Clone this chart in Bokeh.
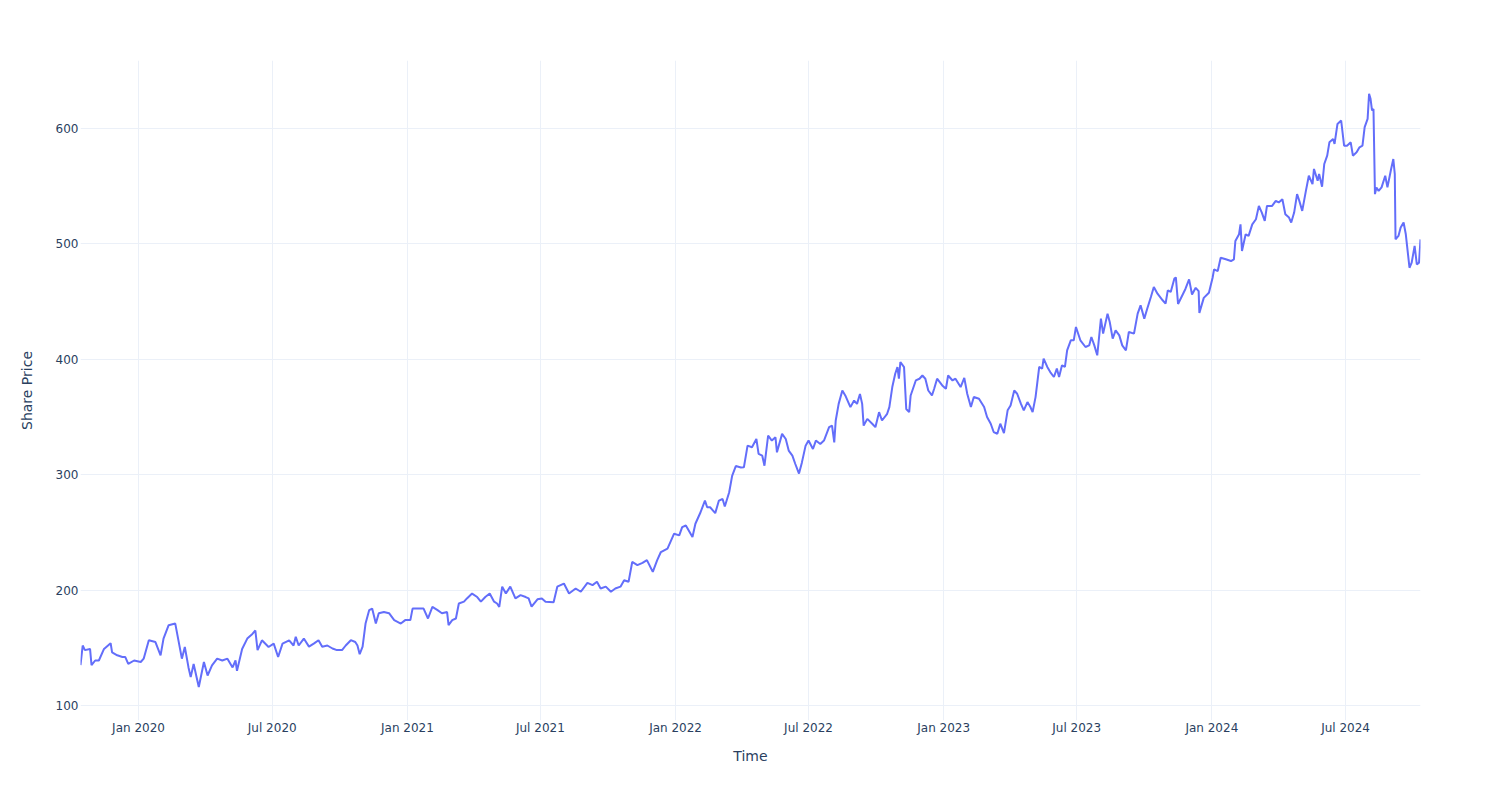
import pandas as pd
from bokeh.plotting import figure
from bokeh.models import FixedTicker, DatetimeTickFormatter, Range1d
from bokeh.embed import file_html
from bokeh.resources import INLINE

dates = [
    "2019-10-14", "2019-10-17", "2019-10-20", "2019-10-27", "2019-10-29", "2019-11-03", "2019-11-08", "2019-11-15",
    "2019-11-24", "2019-11-26", "2019-12-03", "2019-12-10", "2019-12-14", "2019-12-18", "2019-12-26", "2020-01-04",
    "2020-01-08", "2020-01-15", "2020-01-24", "2020-01-31", "2020-02-04", "2020-02-11", "2020-02-20", "2020-02-29",
    "2020-03-04", "2020-03-09", "2020-03-12", "2020-03-16", "2020-03-23", "2020-03-30", "2020-04-04", "2020-04-10",
    "2020-04-17", "2020-04-24", "2020-05-01", "2020-05-08", "2020-05-12", "2020-05-14", "2020-05-21", "2020-05-28",
    "2020-06-04", "2020-06-08", "2020-06-11", "2020-06-17", "2020-06-26", "2020-07-03", "2020-07-09", "2020-07-15",
    "2020-07-24", "2020-07-30", "2020-08-02", "2020-08-06", "2020-08-13", "2020-08-20", "2020-08-27", "2020-09-02",
    "2020-09-07", "2020-09-14", "2020-09-21", "2020-09-27", "2020-10-04", "2020-10-09", "2020-10-16", "2020-10-22",
    "2020-10-25", "2020-10-28", "2020-11-01", "2020-11-05", "2020-11-10", "2020-11-14", "2020-11-19", "2020-11-23",
    "2020-11-30", "2020-12-07", "2020-12-14", "2020-12-23", "2020-12-29", "2021-01-05", "2021-01-08", "2021-01-17",
    "2021-01-23", "2021-01-29", "2021-02-04", "2021-02-11", "2021-02-17", "2021-02-24", "2021-02-26", "2021-03-03",
    "2021-03-08", "2021-03-12", "2021-03-19", "2021-03-23", "2021-03-30", "2021-04-06", "2021-04-11", "2021-04-17",
    "2021-04-23", "2021-04-29", "2021-05-03", "2021-05-06", "2021-05-10", "2021-05-15", "2021-05-21", "2021-05-28",
    "2021-06-04", "2021-06-11", "2021-06-15", "2021-06-19", "2021-06-27", "2021-07-03", "2021-07-08", "2021-07-19",
    "2021-07-24", "2021-08-02", "2021-08-09", "2021-08-18", "2021-08-25", "2021-09-03", "2021-09-10", "2021-09-16",
    "2021-09-21", "2021-09-28", "2021-10-05", "2021-10-11", "2021-10-18", "2021-10-23", "2021-10-29", "2021-11-03",
    "2021-11-10", "2021-11-17", "2021-11-23", "2021-12-01", "2021-12-07", "2021-12-12", "2021-12-21", "2021-12-30",
    "2022-01-06", "2022-01-10", "2022-01-15", "2022-01-24", "2022-01-28", "2022-02-04", "2022-02-10", "2022-02-13",
    "2022-02-17", "2022-02-24", "2022-03-01", "2022-03-06", "2022-03-09", "2022-03-15", "2022-03-19", "2022-03-24",
    "2022-03-31", "2022-04-04", "2022-04-09", "2022-04-15", "2022-04-21", "2022-04-24", "2022-04-29", "2022-05-02",
    "2022-05-07", "2022-05-12", "2022-05-17", "2022-05-19", "2022-05-26", "2022-05-31", "2022-06-04", "2022-06-09",
    "2022-06-13", "2022-06-18", "2022-06-22", "2022-06-27", "2022-07-01", "2022-07-07", "2022-07-11", "2022-07-17",
    "2022-07-22", "2022-07-29", "2022-08-02", "2022-08-05", "2022-08-07", "2022-08-11", "2022-08-16", "2022-08-20",
    "2022-08-27", "2022-09-01", "2022-09-05", "2022-09-09", "2022-09-12", "2022-09-14", "2022-09-19", "2022-09-26",
    "2022-09-30", "2022-10-05", "2022-10-09", "2022-10-16", "2022-10-19", "2022-10-23", "2022-10-27", "2022-10-30",
    "2022-11-01", "2022-11-03", "2022-11-08", "2022-11-11", "2022-11-15", "2022-11-17", "2022-11-24", "2022-11-29",
    "2022-12-03", "2022-12-07", "2022-12-11", "2022-12-16", "2022-12-19", "2022-12-23", "2022-12-30", "2023-01-04",
    "2023-01-07", "2023-01-13", "2023-01-17", "2023-01-24", "2023-01-29", "2023-02-02", "2023-02-07", "2023-02-11",
    "2023-02-18", "2023-02-25", "2023-03-01", "2023-03-06", "2023-03-10", "2023-03-15", "2023-03-19", "2023-03-24",
    "2023-03-29", "2023-04-02", "2023-04-07", "2023-04-11", "2023-04-16", "2023-04-20", "2023-04-25", "2023-04-29",
    "2023-05-02", "2023-05-06", "2023-05-11", "2023-05-15", "2023-05-17", "2023-05-22", "2023-05-26", "2023-05-31",
    "2023-06-04", "2023-06-07", "2023-06-11", "2023-06-15", "2023-06-18", "2023-06-23", "2023-06-27", "2023-06-30",
    "2023-07-06", "2023-07-13", "2023-07-18", "2023-07-21", "2023-07-25", "2023-07-29", "2023-08-03", "2023-08-06",
    "2023-08-12", "2023-08-15", "2023-08-19", "2023-08-23", "2023-08-28", "2023-09-01", "2023-09-06", "2023-09-10",
    "2023-09-17", "2023-09-22", "2023-09-26", "2023-10-01", "2023-10-05", "2023-10-10", "2023-10-14", "2023-10-19",
    "2023-10-26", "2023-10-30", "2023-11-02", "2023-11-06", "2023-11-11", "2023-11-13", "2023-11-16", "2023-11-21",
    "2023-11-26", "2023-12-01", "2023-12-05", "2023-12-10", "2023-12-14", "2023-12-15", "2023-12-21", "2023-12-28",
    "2024-01-02", "2024-01-04", "2024-01-09", "2024-01-13", "2024-01-20", "2024-01-27", "2024-01-31", "2024-02-02",
    "2024-02-07", "2024-02-09", "2024-02-11", "2024-02-16", "2024-02-20", "2024-02-25", "2024-03-01", "2024-03-05",
    "2024-03-09", "2024-03-13", "2024-03-16", "2024-03-23", "2024-03-28", "2024-04-01", "2024-04-06", "2024-04-10",
    "2024-04-15", "2024-04-18", "2024-04-22", "2024-04-26", "2024-04-29", "2024-05-03", "2024-05-08", "2024-05-12",
    "2024-05-17", "2024-05-19", "2024-05-24", "2024-05-26", "2024-05-30", "2024-06-02", "2024-06-06", "2024-06-09",
    "2024-06-14", "2024-06-16", "2024-06-20", "2024-06-25", "2024-06-29", "2024-07-03", "2024-07-08", "2024-07-11",
    "2024-07-16", "2024-07-20", "2024-07-24", "2024-07-27", "2024-07-31", "2024-08-02", "2024-08-04", "2024-08-06",
    "2024-08-08", "2024-08-10", "2024-08-12", "2024-08-15", "2024-08-19", "2024-08-24", "2024-08-27", "2024-09-01",
    "2024-09-04", "2024-09-06", "2024-09-07", "2024-09-11", "2024-09-14", "2024-09-18", "2024-09-21", "2024-09-26",
    "2024-09-29", "2024-10-03", "2024-10-06", "2024-10-09", "2024-10-11",
]

prices = [
    135, 152, 148, 149, 135, 139, 139, 149,
    154, 146, 143.5, 142, 142, 136, 139, 137.7,
    140.6, 156.5, 155, 143.5, 158, 169.6, 171, 140.6,
    150.7, 133, 124.6, 136, 116, 137.7, 126, 134.8,
    140.6, 139, 140.6, 133, 139, 130, 149, 158,
    162, 165, 148, 156.5, 150.7, 153.6, 142, 153.6,
    156.5, 152, 159.5, 152, 158, 151, 153.8, 156.6,
    151, 152, 149.4, 148, 148, 152, 156.6, 155,
    152, 144.5, 151, 171, 182.7, 184, 171, 180,
    181, 180, 174, 171, 174, 174, 184, 184,
    184, 175.4, 185.5, 182.7, 180, 181, 169.7, 174,
    175.4, 188.4, 190, 192.8, 197, 194, 190, 194,
    197, 190, 188.4, 185.5, 203, 197, 203, 192.8,
    195.7, 194, 192.8, 185.6, 192, 192.8, 190, 189.4,
    203, 205.7, 197, 201.4, 198.6, 206.3, 204.3, 207.2,
    201.4, 203, 198.6, 201.4, 203, 208.6, 207.2, 224.4,
    221.6, 223.6, 226, 215.8, 226, 233, 236, 248.9,
    247.4, 254.6, 256, 246, 257.5, 267.5, 277.6, 271.8,
    271.8, 266.7, 277.6, 279, 272.4, 284.8, 299, 307.5,
    306.3, 306.4, 325.2, 323.8, 331, 318, 316.5, 307.8,
    334, 329.6, 332.5, 319.4, 335.4, 331, 320.9, 316.5,
    309.3, 301, 310.7, 325.2, 329.6, 322.3, 329.6, 326.7,
    329.6, 341.2, 342.6, 328, 347, 361.4, 373, 368.7,
    358.6, 364.3, 361.4, 370, 361.4, 342.6, 348.4, 344,
    341.2, 354.2, 347, 352.8, 358.6, 376, 387.5, 393.3,
    383.2, 397.7, 393.3, 357, 354.2, 368.7, 381.7, 383.2,
    386, 383.2, 373, 368.7, 374.5, 383.2, 377.4, 374.5,
    386, 381.7, 383.2, 376, 384, 370.2, 358.7, 367.3,
    365.9, 358.7, 350, 344.2, 337, 335.5, 344.2, 336.1,
    355.8, 360, 373, 370.2, 361.6, 355.8, 363, 358.7,
    354.3, 367.3, 393.4, 392, 400.6, 393.4, 389, 384.7,
    392, 384.7, 394.8, 393.4, 407.8, 416.5, 416.5, 428,
    416.5, 410.7, 412.1, 419.4, 412.1, 403.5, 435.3, 422.3,
    439.6, 432.4, 418, 425.1, 420.8, 412.1, 407.8, 423.7,
    422.3, 439.6, 446.8, 435.3, 443.9, 454, 462.7, 456.9,
    451.2, 448.3, 459.8, 458.4, 470, 471, 448, 454.5,
    461, 469.3, 456.2, 462, 459.1, 440.3, 453.3, 457.7,
    470.7, 478, 476.5, 488.1, 486.7, 485.2, 486.7, 502.6,
    508.4, 517, 493.9, 508.4, 507, 517, 521.4, 533,
    527.2, 520, 533, 533, 537.4, 536, 538.8, 525.8,
    522.9, 518.6, 527.2, 543.2, 537.4, 528.7, 546, 559.1,
    551.9, 565, 554.8, 560.6, 549.6, 569.3, 576.5, 588.1,
    591, 586.7, 604, 607, 585.2, 585.2, 588.1, 576.5,
    579.4, 583.8, 585.2, 601.2, 608.4, 630.1, 625.8, 615.7,
    617, 543.2, 549, 546, 549, 559.1, 549, 565,
    573.6, 560.6, 504, 507, 514.2, 518.6, 508.4, 479.4,
    483.8, 498.3, 482.3, 483.8, 504,
]

x_tick_dates = ["2020-01-01", "2020-07-01", "2021-01-01", "2021-07-01", "2022-01-01",
                "2022-07-01", "2023-01-01", "2023-07-01", "2024-01-01", "2024-07-01"]
y_ticks = [100, 200, 300, 400, 500, 600]

x = pd.to_datetime(dates)
FONT = "DejaVu Sans"
TXT = "#2a3f5f"
GRID = "#EBF0F8"

p = figure(width=1500, height=800, x_axis_type="datetime",
           output_backend="svg", toolbar_location=None,
           x_range=Range1d(x[0].to_pydatetime(), x[-1].to_pydatetime()),
           y_range=Range1d(87, 659),
           min_border_left=80, min_border_right=80,
           min_border_top=60, min_border_bottom=80)

p.line(x, prices, line_color="#636EFA", line_width=2)

p.xaxis.ticker = FixedTicker(ticks=[pd.Timestamp(d).timestamp() * 1000 for d in x_tick_dates])
p.xaxis.formatter = DatetimeTickFormatter(days="%b %Y", months="%b %Y", years="%b %Y")
p.yaxis.ticker = FixedTicker(ticks=y_ticks)

p.xaxis.axis_label = "Time"
p.yaxis.axis_label = "Share Price"

for ax in (p.xaxis, p.yaxis):
    ax.axis_line_color = None
    ax.major_tick_line_color = None
    ax.minor_tick_line_color = None
    ax.major_tick_out = 0
    ax.major_tick_in = 0
    ax.minor_tick_out = 0
    ax.minor_tick_in = 0
    ax.major_label_text_font = FONT
    ax.major_label_text_font_size = "12px"
    ax.major_label_text_color = TXT
    ax.axis_label_text_font = FONT
    ax.axis_label_text_font_size = "14px"
    ax.axis_label_text_font_style = "normal"
    ax.axis_label_text_color = TXT

p.xaxis.major_label_standoff = 0
p.yaxis.major_label_standoff = 2
p.xaxis.axis_label_standoff = 10
p.yaxis.axis_label_standoff = 18

p.xgrid.grid_line_color = GRID
p.ygrid.grid_line_color = GRID
p.outline_line_color = None
p.background_fill_color = "white"
p.border_fill_color = "white"

open("out.html", "w").write(file_html(p, INLINE))
